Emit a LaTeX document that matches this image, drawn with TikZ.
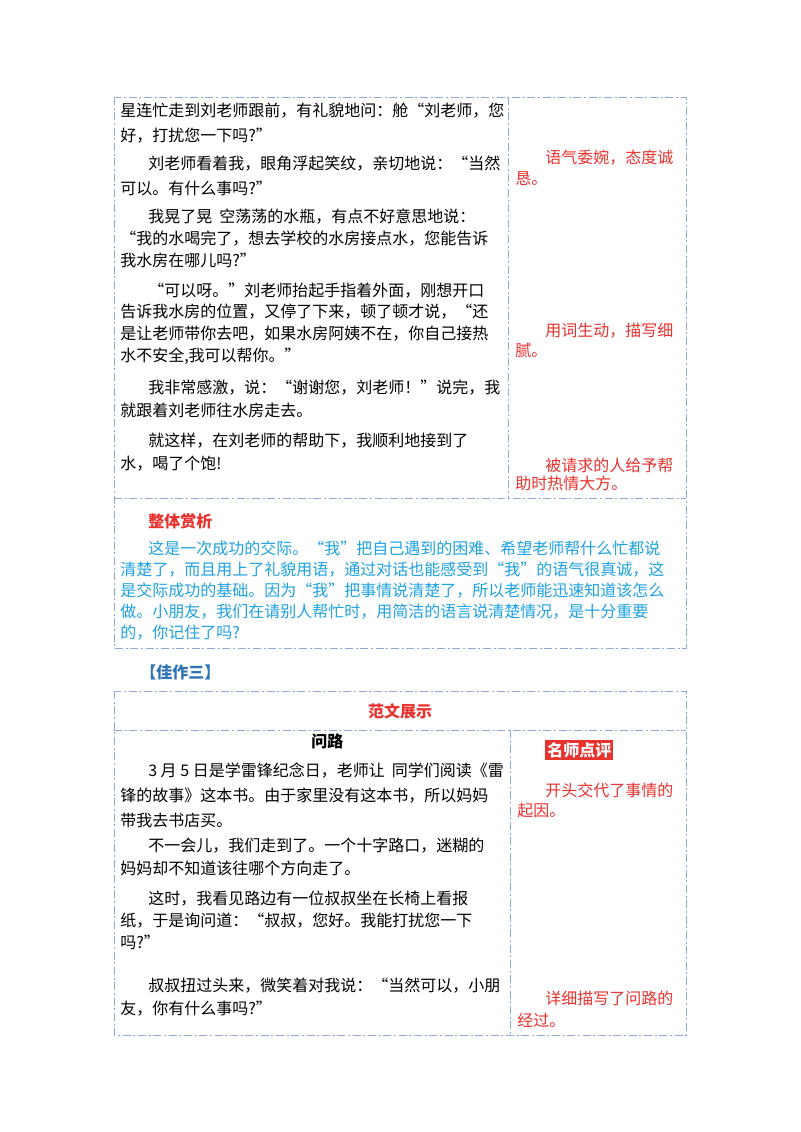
\documentclass[tikz,border=0pt]{standalone}
\usepackage{fontspec}
\setmainfont{Noto Sans CJK SC}
\newfontfamily\cjk{Noto Sans CJK SC}
\begin{document}
\begin{tikzpicture}[x=0.75pt,y=-0.75pt,
  bd/.style={draw=frame,line width=0.6pt,dash pattern=on 6pt off 2pt on 1.5pt off 2pt},
  t/.style={anchor=base west,inner sep=0pt,font=\fontsize{12}{14}\selectfont},
  r/.style={t,text=cred},
  b/.style={t,text=cblue}]
\definecolor{frame}{HTML}{8EAADB}
\definecolor{cred}{HTML}{E8322E}
\definecolor{cblue}{HTML}{1DA1E2}
\definecolor{hblue}{HTML}{2E74B5}
\useasboundingbox (0,0) rectangle (800,1132);
% table 1
\draw[bd] (114,97) rectangle (686,648);
\draw[bd] (508,97) -- (508,498);
\draw[bd] (114,498) -- (686,498);
\node[t] (a1) at (120,116) {星连忙走到刘老师跟前，有礼貌地问：舱“刘老师，您};
\node[t] (a2) at (120,141) {好，打扰您一下吗?”};
\node[t] (a3) at (148,169) {刘老师看着我，眼角浮起笑纹，亲切地说：“当然};
\node[t] (a4) at (120,194) {可以。有什么事吗?”};
\node[t] (a5) at (148,222) {我晃了晃\ \ 空荡荡的水瓶，有点不好意思地说：};
\node[t] (a6) at (120,244) {“我的水喝完了，想去学校的水房接点水，您能告诉};
\node[t] (a7) at (120,266) {我水房在哪儿吗?”};
\node[t] (a8) at (148,296) {“可以呀。”刘老师抬起手指着外面，刚想开口};
\node[t] (a9) at (120,317) {告诉我水房的位置，又停了下来，顿了顿才说，“还};
\node[t] (a10) at (120,339) {是让老师带你去吧，如果水房阿姨不在，你自己接热};
\node[t] (a11) at (120,361) {水不安全,我可以帮你。”};
\node[t] (a12) at (148,393) {我非常感激，说：“谢谢您，刘老师！”说完，我};
\node[t] (a13) at (120,416) {就跟着刘老师往水房走去。};
\node[t] (a14) at (148,446) {就这样，在刘老师的帮助下，我顺利地接到了};
\node[t] (a15) at (120,469) {水，喝了个饱!};
\node[r] (c1) at (545,163) {语气委婉，态度诚};
\node[r] (c2) at (515,184) {恳。};
\node[r] (c3) at (545,336) {用词生动，描写细};
\node[r] (c4) at (515,356) {腻。};
\node[r] (c5) at (545,471) {被请求的人给予帮};
\node[r] (c6) at (515,489) {助时热情大方。};
\node[r,font=\fontsize{12}{14}\selectfont\bfseries] (h1) at (148,527) {整体赏析};
\node[b] (b1) at (148,554) {这是一次成功的交际。“我”把自己遇到的困难、希望老师帮什么忙都说};
\node[b] (b2) at (120,575) {清楚了，而且用上了礼貌用语，通过对话也能感受到“我”的语气很真诚，这};
\node[b] (b3) at (120,596) {是交际成功的基础。因为“我”把事情说清楚了，所以老师能迅速知道该怎么};
\node[b] (b4) at (120,617) {做。小朋友，我们在请别人帮忙时，用简洁的语言说清楚情况，是十分重要};
\node[b] (b5) at (120,638) {的，你记住了吗?};
\node[t,text=hblue,font=\fontsize{12}{14}\selectfont\bfseries] (j3) at (140,678) {【佳作三】};
% table 2
\draw[bd] (114,691) rectangle (686,1035);
\draw[bd] (114,730) -- (686,730);
\draw[bd] (510,730) -- (510,1035);
\node[inner sep=0pt,text=cred,font=\fontsize{12}{14}\selectfont\bfseries] (fw) at (400,711) {范文展示};
\node[t,font=\fontsize{12}{14}\selectfont\bfseries] (wl) at (311,747) {问路};
\node[t] (d1) at (148,776) {3 月 5 日是学雷锋纪念日，老师让\ \ 同学们阅读《雷};
\node[t] (d2) at (120,801) {锋的故事》这本书。由于家里没有这本书，所以妈妈};
\node[t] (d3) at (120,826) {带我去书店买。};
\node[t] (d4) at (148,851) {不一会儿，我们走到了。一个十字路口，迷糊的};
\node[t] (d5) at (120,874) {妈妈却不知道该往哪个方向走了。};
\node[t] (d6) at (148,904) {这时，我看见路边有一位叔叔坐在长椅上看报};
\node[t] (d7) at (120,926) {纸，于是询问道：“叔叔，您好。我能打扰您一下};
\node[t] (d8) at (120,948) {吗?”};
\node[t] (d9) at (148,991) {叔叔扭过头来，微笑着对我说：“当然可以，小朋};
\node[t] (d10) at (120,1014) {友，你有什么事吗?”};
\node[anchor=west,fill=cred,text=white,inner sep=1.5pt,font=\fontsize{12}{14}\selectfont\bfseries] (ms) at (545,750) {名师点评};
\node[r] (e1) at (545,796) {开头交代了事情的};
\node[r] (e2) at (517,816) {起因。};
\node[r] (e3) at (545,1004) {详细描写了问路的};
\node[r] (e4) at (517,1026) {经过。};
\end{tikzpicture}
\end{document}
